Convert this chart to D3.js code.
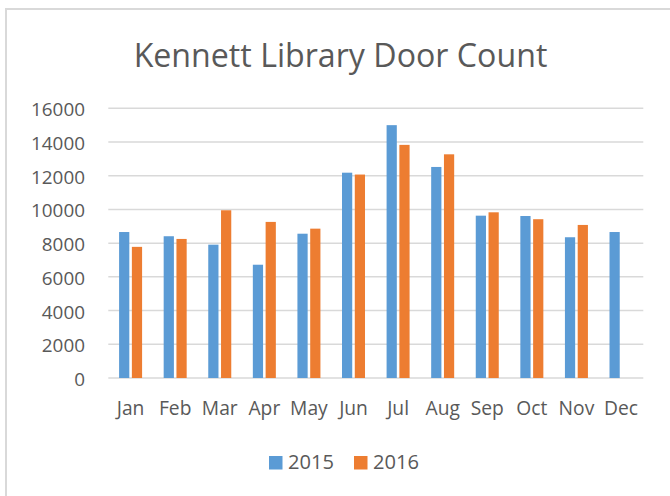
<!DOCTYPE html>
<html><head><meta charset="utf-8">
<script src="https://cdn.jsdelivr.net/npm/d3@7"></script>
<style>html,body{margin:0;padding:0;background:#fff;}</style>
</head><body>
<svg id="chart" width="670" height="496"></svg>
<script>
const months = ["Jan","Feb","Mar","Apr","May","Jun","Jul","Aug","Sep","Oct","Nov","Dec"];
const seriesNames = ["2015","2016"];
const values2015 = [8660, 8410, 7910, 6720, 8560, 12180, 15000, 12520, 9630, 9610, 8350, 8660];
const values2016 = [7780, 8250, 9950, 9260, 8860, 12070, 13830, 13270, 9830, 9420, 9080, null];
const yTicks = [0, 2000, 4000, 6000, 8000, 10000, 12000, 14000, 16000];
const colors = ["#5B9BD5", "#ED7D31"];
const title = "Kennett Library Door Count";

const svg = d3.select("#chart");
const font = "Open Sans, Calibri, sans-serif";
const textColor = "#595959";

// fit helper: scale font size so text width matches target
function fitSize(str, base, target) {
  const t = svg.append("text").attr("font-family", font).attr("font-size", base).text(str);
  const w = t.node().getComputedTextLength();
  t.remove();
  return base * target / w;
}
const axisSize = fitSize("16000", 20, 54);
const xLabelSize = Math.min(fitSize("Dec", 20, 34), axisSize * 1.12);
const legendSize = fitSize("2015", 20, 46);
const titleSize = fitSize(title, 30, 414);

// chart border
svg.append("rect").attr("x", 6).attr("y", 9).attr("width", 680).attr("height", 500)
  .attr("fill", "none").attr("stroke", "#d9d9d9").attr("stroke-width", 2);

const pLeft = 108.3, pRight = 643.3, pTop = 108.3, pBottom = 378;
const x = d3.scaleBand().domain(months).range([pLeft, pRight]).padding(0);
const y = d3.scaleLinear().domain([0, 16000]).range([pBottom, pTop]);
const x1 = d3.scaleBand().domain(seriesNames).range([-11.5, 11.5]).paddingInner(0.2).paddingOuter(0);

// title
svg.append("text").attr("x", 340.5).attr("y", 67).attr("text-anchor", "middle")
  .attr("font-family", font).attr("font-size", titleSize).attr("fill", textColor).text(title);

// gridlines
svg.append("g").selectAll("line").data(yTicks).join("line")
  .attr("x1", pLeft).attr("x2", pRight)
  .attr("y1", d => y(d)).attr("y2", d => y(d))
  .attr("stroke", "#d9d9d9").attr("stroke-width", 1.5);

// y axis labels
const yAxis = d3.axisLeft(y).tickValues(yTicks).tickSize(0).tickPadding(0).tickFormat(d3.format("d"));
const yg = svg.append("g").attr("transform", `translate(85,0)`).call(yAxis);
yg.select(".domain").remove();
yg.selectAll("text").attr("dy", null).attr("y", 7.5)
  .attr("font-family", font).attr("font-size", axisSize).attr("fill", textColor);

// x axis labels
const xAxis = d3.axisBottom(x).tickSize(0).tickPadding(0);
const xg = svg.append("g").attr("transform", `translate(0,415)`).call(xAxis);
xg.select(".domain").remove();
xg.selectAll("text").attr("dy", null).attr("y", 0)
  .attr("font-family", font).attr("font-size", xLabelSize).attr("fill", textColor);

// bars
const data = months.map((m, i) => ({ month: m, vals: [values2015[i], values2016[i]] }));
const groups = svg.append("g").selectAll("g").data(data).join("g")
  .attr("transform", d => `translate(${x(d.month) + x.bandwidth() / 2},0)`);
groups.selectAll("rect").data(d => d.vals.map((v, j) => ({ v, s: seriesNames[j], c: colors[j] })).filter(e => e.v != null))
  .join("rect")
  .attr("x", e => x1(e.s)).attr("width", x1.bandwidth())
  .attr("y", e => y(e.v)).attr("height", e => y(0) - y(e.v))
  .attr("fill", e => e.c);

// legend
const legendX = [269, 354];
const lg = svg.append("g");
seriesNames.forEach((s, i) => {
  lg.append("rect").attr("x", legendX[i]).attr("y", 456).attr("width", 13.5).attr("height", 13.5).attr("fill", colors[i]);
  lg.append("text").attr("x", legendX[i] + 19).attr("y", 469).attr("font-family", font)
    .attr("font-size", legendSize).attr("fill", textColor).text(s);
});
</script>
</body></html>
